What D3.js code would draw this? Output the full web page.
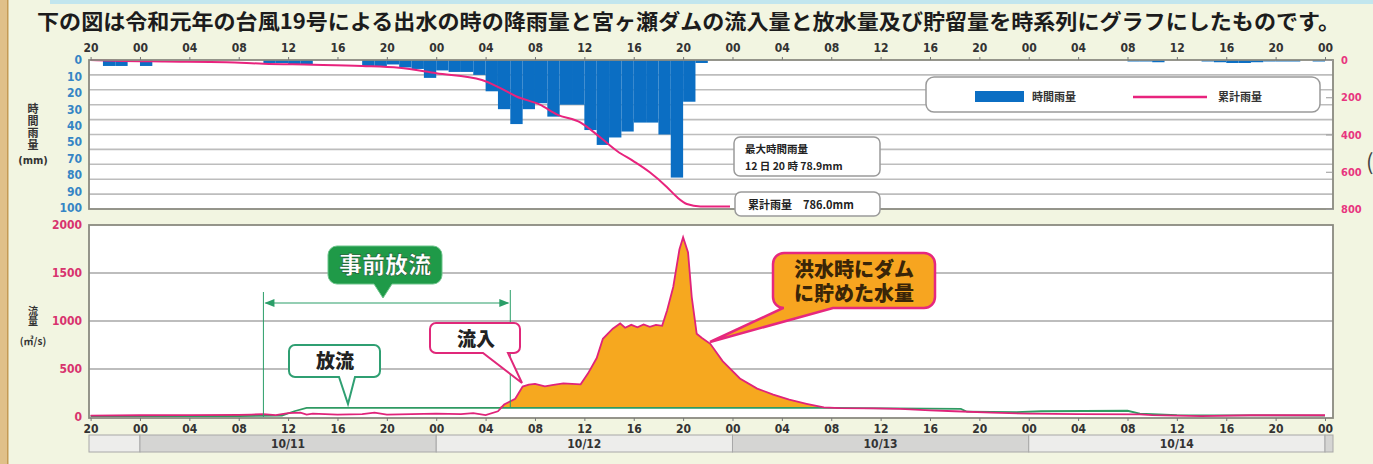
<!DOCTYPE html>
<html><head><meta charset="utf-8">
<script src="https://cdn.jsdelivr.net/npm/d3@7"></script>
<style>
body{margin:0;background:#f2f5e1;}
svg{display:block;}
text{font-family:"Noto Sans CJK JP","Noto Sans",sans-serif;}
.num{font-family:"DejaVu Sans Condensed","Liberation Sans Narrow","Roboto",sans-serif;font-weight:bold;}
.vt{writing-mode:vertical-rl;text-orientation:upright;}
.ob{font-family:"Noto Sans CJK JP",sans-serif;font-size:20px;font-weight:900;color:#3a2508;line-height:24px;text-align:center;margin:0;}
</style></head><body>
<svg id="c" width="1373" height="464"></svg>
<script>
// ---------------- DATA ----------------
const titleText = "下の図は令和元年の台風19号による出水の時の降雨量と宮ヶ瀬ダムの流入量と放水量及び貯留量を時系列にグラフにしたものです。";
const startTime = new Date(2019, 9, 10, 20);
const endTime = new Date(2019, 9, 15, 0);

// hourly rainfall (hour index = hours after 10/10 20:00 at the END of the hour), mm
const rainHour = [2,3,5,15,16,17,18,23,24,25,26,27,28,29,30,31,32,33,34,35,36,37,38,39,40,41,42,43,44,45,46,47,48,49,50,85,86,87,91,92,93,94,95,96,97,98,100];
const rainMm   = [4,4,4,2,2,3,3,4,4,3,5,6,12,7,8,8,10,21,33,43,33,29,38,30,30,47,57,52,48,42,42,50,78.9,28,2,1,1,1.5,1,1.5,2,2,1.5,1,1,1,1];

// cumulative rainfall (hours after start, mm)
const cumHour = [0,2,6,11,14,18,22,25,28,31.7,33.2,34.5,36.4,37.8,39.7,41.3,42.7,44,45.3,46.7,47.5,48.3,49.4,51.8];
const cumMm   = [0,4,8,12,20,25,32,42,71,107,151,196,240,293,336,416,491,544,603,683,736,773,786,786];

// inflow (m3/s)
const inHour = [0,4,8,12,13,14,15,16,17,17.5,18,20,22,23,24,26,28,30,31,32,33,33.5,34.4,35,35.5,36,36.8,37.5,38.3,39,39.7,40.3,41,41.5,42.3,42.9,43.3,43.8,44.3,44.8,45.3,45.8,46.3,46.7,47.2,47.7,48,48.4,48.7,49.1,49.5,50.2,51.2,52.6,54,55.3,56.6,58,59.4,60.7,63.4,65.6,68,70,73,76,80,85,86,90,94,100];
const inVal  = [15,18,20,22,25,30,20,40,45,25,35,25,30,45,25,30,35,30,40,20,60,130,190,317,338,345,320,335,350,345,340,455,614,815,920,975,930,960,935,965,940,960,950,1110,1354,1745,1873,1714,1249,868,825,762,582,402,296,233,180,138,100,92,90,85,70,60,45,35,30,28,20,10,18,18];

// outflow (m3/s)
const outHour = [0,12,15.5,16.5,17.5,20,28,40,50,60,65,70.5,71,75,77,84,85,88,100];
const outVal  = [10,10,14,60,95,95,95,95,95,95,90,85,55,50,60,65,35,20,15];

const rainTickLabels = ["0","10","20","30","40","50","70","80","90","100"];
const cumTicks = [0,200,400,600,800];
const flowTicks = [0,500,1000,1500,2000];
const dayLabels = ["10/11","10/12","10/13","10/14"];
const dayStarts = [new Date(2019,9,11), new Date(2019,9,12), new Date(2019,9,13), new Date(2019,9,14)];

// ---------------- SETUP ----------------
const H = 3600e3;
const atH = h => new Date(+startTime + h * H);
const svg = d3.select("#c");
const X0 = 89, X1 = 1333;
const x = d3.scaleTime().domain([startTime, endTime]).range([90.6, 1325]);
const yRain = d3.scaleLinear().domain([0, 100]).range([60, 209]);
const yCum = d3.scaleLinear().domain([0, 800]).range([60, 209]);
const yFlow = d3.scaleLinear().domain([0, 2000]).range([417, 225]);
const yRainLbl = d3.scalePoint().domain(rainTickLabels).range([60, 208]);

// background & decorations
svg.append("rect").attr("width", 1373).attr("height", 464).attr("fill", "#f2f5e1");
svg.append("rect").attr("x", 0).attr("y", 0).attr("width", 8).attr("height", 464).attr("fill", "#e0c089");
svg.append("rect").attr("x", 7).attr("y", 0).attr("width", 1.5).attr("height", 464).attr("fill", "#c49a55");
svg.append("rect").attr("x", 50).attr("y", 0).attr("width", 1323).attr("height", 4).attr("fill", "#c2e6ee");

// title
svg.append("text").attr("x", 37).attr("y", 28.5).attr("font-size", 21).attr("font-weight", "bold")
  .attr("fill", "#1c1c1c").attr("textLength", 1303).attr("lengthAdjust", "spacingAndGlyphs").text(titleText);

// ---------------- TOP PLOT ----------------
const topG = svg.append("g");
topG.append("rect").attr("x", X0).attr("y", 60).attr("width", X1 - X0).attr("height", 149).attr("fill", "#fff");
topG.selectAll("line.g").data(d3.range(10, 100, 10)).join("line")
  .attr("x1", X0).attr("x2", X1).attr("y1", d => yRain(d)).attr("y2", d => yRain(d))
  .attr("stroke", "#bdbdbd").attr("stroke-width", 1.6);
topG.selectAll("rect.bar").data(rainHour.map((h, i) => ({h, v: rainMm[i]}))).join("rect")
  .attr("x", d => x(atH(d.h - 1))).attr("width", d => x(atH(d.h)) - x(atH(d.h - 1)))
  .attr("y", yRain(0)).attr("height", d => yRain(d.v) - yRain(0)).attr("fill", "#0b6ec3");
const cumLine = d3.line().x(d => x(atH(d.h))).y(d => yCum(d.v)).curve(d3.curveMonotoneX);
topG.append("path").datum(cumHour.map((h, i) => ({h, v: cumMm[i]}))).attr("d", cumLine)
  .attr("fill", "none").attr("stroke", "#e8237d").attr("stroke-width", 2);
topG.append("rect").attr("x", X0).attr("y", 60).attr("width", X1 - X0).attr("height", 149)
  .attr("fill", "none").attr("stroke", "#8a8a80").attr("stroke-width", 1.8);

// top time axis
const axTop = topG.append("g").attr("transform", "translate(0,60)")
  .call(d3.axisTop(x).ticks(d3.timeHour.every(4)).tickFormat(d3.timeFormat("%H")).tickSize(3).tickPadding(5));
axTop.select(".domain").remove();
axTop.selectAll("line").attr("stroke", "#777");
axTop.selectAll("text").attr("class", "num").attr("font-size", 12).attr("fill", "#333");

// left labels (rain)
topG.selectAll("text.rl").data(rainTickLabels).join("text").attr("class", "num")
  .attr("x", 82).attr("y", d => yRainLbl(d)).attr("dy", "0.35em").attr("text-anchor", "end")
  .attr("font-size", 12).attr("fill", "#3585c5").text(d => d);

// right axis (cumulative)
const axR = topG.append("g").attr("transform", `translate(${X1},0)`)
  .call(d3.axisRight(yCum).tickValues(cumTicks).tickFormat(d3.format("d")).tickSizeInner(-7).tickSizeOuter(0).tickPadding(8));
axR.select(".domain").remove();
axR.selectAll("line").attr("stroke", "#999");
axR.selectAll("text").attr("class", "num").attr("font-size", 11).attr("fill", "#e8357f");

// rain axis title
topG.append("text").attr("class", "vt").attr("x", 33).attr("y", 103).attr("font-size", 11).attr("font-weight", "bold")
  .attr("letter-spacing", 1).attr("fill", "#333").text("時間雨量");
topG.append("text").attr("class", "num").attr("x", 33).attr("y", 160).attr("dy", "0.35em").attr("text-anchor", "middle")
  .attr("font-size", 11).attr("fill", "#333").text("(mm)");

// legend
topG.append("rect").attr("x", 926).attr("y", 77).attr("width", 394).attr("height", 35).attr("rx", 8)
  .attr("fill", "#fff").attr("stroke", "#9a9a9a").attr("stroke-width", 1.5);
topG.append("rect").attr("x", 975).attr("y", 91).attr("width", 49).attr("height", 11).attr("fill", "#0b6ec3");
topG.append("text").attr("x", 1032).attr("y", 97).attr("dy", "0.35em").attr("font-size", 11).attr("font-weight", "bold").attr("fill", "#333").text("時間雨量");
topG.append("line").attr("x1", 1133).attr("x2", 1207).attr("y1", 97).attr("y2", 97).attr("stroke", "#e8237d").attr("stroke-width", 2.5);
topG.append("text").attr("x", 1218).attr("y", 97).attr("dy", "0.35em").attr("font-size", 11).attr("font-weight", "bold").attr("fill", "#333").text("累計雨量");

// annotation boxes top
topG.append("rect").attr("x", 734).attr("y", 137).attr("width", 146).attr("height", 39).attr("rx", 6)
  .attr("fill", "#fff").attr("stroke", "#9a9a9a").attr("stroke-width", 1.5);
topG.append("text").attr("x", 745).attr("y", 149).attr("dy", "0.35em").attr("font-size", 10.5).attr("font-weight", "bold").attr("fill", "#222").text("最大時間雨量");
topG.append("text").attr("x", 745).attr("y", 166).attr("dy", "0.35em").attr("font-size", 10.5).attr("font-weight", "bold").attr("fill", "#222").text("12 日 20 時  78.9mm");
topG.append("rect").attr("x", 735).attr("y", 192).attr("width", 145).attr("height", 24).attr("rx", 6)
  .attr("fill", "#fff").attr("stroke", "#9a9a9a").attr("stroke-width", 1.5);
topG.append("text").attr("x", 748).attr("y", 205).attr("dy", "0.35em").attr("font-size", 11).attr("font-weight", "bold").attr("fill", "#222").text("累計雨量　786.0mm");

// ---------------- BOTTOM PLOT ----------------
const botG = svg.append("g");
botG.append("rect").attr("x", X0).attr("y", 225).attr("width", X1 - X0).attr("height", 193).attr("fill", "#fff");
botG.selectAll("line.g").data([500, 1000, 1500]).join("line")
  .attr("x1", X0).attr("x2", X1).attr("y1", d => yFlow(d)).attr("y2", d => yFlow(d))
  .attr("stroke", "#bdbdbd").attr("stroke-width", 2);

const outAt = d3.scaleLinear().domain(outHour).range(outVal);
const inData = inHour.map((h, i) => ({h, v: inVal[i], o: outAt(h)}));
const area = d3.area().x(d => x(atH(d.h))).y0(d => yFlow(d.o)).y1(d => yFlow(Math.max(d.v, d.o)));
botG.append("path").datum(inData).attr("d", area).attr("fill", "#f6a81f");
const outLine = d3.line().x(d => x(atH(d.h))).y(d => yFlow(d.v));
botG.append("path").datum(outHour.map((h, i) => ({h, v: outVal[i]}))).attr("d", outLine)
  .attr("fill", "none").attr("stroke", "#2f9a62").attr("stroke-width", 1.8);
const inLine = d3.line().x(d => x(atH(d.h))).y(d => yFlow(d.v));
botG.append("path").datum(inData).attr("d", inLine)
  .attr("fill", "none").attr("stroke", "#e0237a").attr("stroke-width", 1.8);

botG.append("rect").attr("x", X0).attr("y", 225).attr("width", X1 - X0).attr("height", 193)
  .attr("fill", "none").attr("stroke", "#8a8a80").attr("stroke-width", 1.8);

// left flow axis
const axL = botG.append("g").attr("transform", `translate(${X0},0)`)
  .call(d3.axisLeft(yFlow).tickValues(flowTicks).tickFormat(d3.format("d")).tickSize(0).tickPadding(7));
axL.select(".domain").remove();
axL.selectAll("text").attr("class", "num").attr("font-size", 12).attr("fill", "#d8336e");
botG.append("text").attr("class", "vt").attr("x", 33).attr("y", 306).attr("font-size", 10).attr("font-weight", "bold")
  .attr("fill", "#333").text("流量");
botG.append("text").attr("x", 33).attr("y", 341).attr("dy", "0.35em").attr("text-anchor", "middle")
  .attr("font-size", 10).attr("font-weight", "bold").attr("fill", "#333").text("(㎥/s)");

// bottom time axis
const axB = botG.append("g").attr("transform", "translate(0,418)")
  .call(d3.axisBottom(x).ticks(d3.timeHour.every(4)).tickFormat(d3.timeFormat("%H")).tickSize(3).tickPadding(3));
axB.select(".domain").remove();
axB.selectAll("line").attr("stroke", "#777");
axB.selectAll("text").attr("class", "num").attr("font-size", 12).attr("fill", "#333");

// day band
const bandBounds = [startTime, ...dayStarts, endTime];
const bandG = botG.append("g");
for (let i = 0; i < bandBounds.length - 1; i++) {
  const xa = i === 0 ? X0 : x(bandBounds[i]);
  const xb = x(bandBounds[i + 1]);
  bandG.append("rect").attr("x", xa).attr("y", 435).attr("width", xb - xa).attr("height", 17)
    .attr("fill", i % 2 === 1 ? "#d5d5d3" : "#ededeb").attr("stroke", "#a8a8a8").attr("stroke-width", 1);
}
bandG.append("rect").attr("x", x(endTime)).attr("y", 435).attr("width", X1 - x(endTime)).attr("height", 17)
  .attr("fill", "#d5d5d3").attr("stroke", "#a8a8a8").attr("stroke-width", 1);
bandG.selectAll("text").data(dayLabels).join("text").attr("class", "num")
  .attr("x", (d, i) => (x(dayStarts[i]) + x(new Date(+dayStarts[i] + 24 * H))) / 2).attr("y", 444).attr("dy", "0.35em")
  .attr("text-anchor", "middle").attr("font-size", 12).attr("fill", "#333").text(d => d);

// ---------------- ANNOTATIONS (bottom) ----------------
function callout(xx, yy, w, h, r, bx1, bx2, tx, ty) {
  return `M${xx + r},${yy}H${xx + w - r}A${r},${r} 0 0 1 ${xx + w},${yy + r}V${yy + h - r}A${r},${r} 0 0 1 ${xx + w - r},${yy + h}` +
    `H${bx2}L${tx},${ty}L${bx1},${yy + h}H${xx + r}A${r},${r} 0 0 1 ${xx},${yy + h - r}V${yy + r}A${r},${r} 0 0 1 ${xx + r},${yy}Z`;
}
const green = "#2a9e68";
const xs = x(atH(14)), xe = x(atH(34));
botG.append("line").attr("x1", xs).attr("x2", xs).attr("y1", 292).attr("y2", 417).attr("stroke", green).attr("stroke-width", 1);
botG.append("line").attr("x1", xe).attr("x2", xe).attr("y1", 290).attr("y2", 408).attr("stroke", green).attr("stroke-width", 1);
botG.append("line").attr("x1", xs + 2).attr("x2", xe - 2).attr("y1", 303).attr("y2", 303).attr("stroke", green).attr("stroke-width", 1.2);
botG.append("path").attr("d", `M${xs + 1},303L${xs + 11},299L${xs + 11},307Z`).attr("fill", green);
botG.append("path").attr("d", `M${xe - 1},303L${xe - 11},299L${xe - 11},307Z`).attr("fill", green);

botG.append("path").attr("d", callout(328, 246, 114, 38, 9, 374, 392, 383, 298)).attr("fill", "#1f9a48").attr("stroke", "#6cc48a").attr("stroke-width", 1);
botG.append("text").attr("x", 385).attr("y", 265).attr("dy", "0.36em").attr("text-anchor", "middle").attr("font-size", 23)
  .attr("font-weight", "900").attr("fill", "#fff").attr("stroke", "#0f5a2a").attr("stroke-width", 0.6).text("事前放流");

botG.append("path").attr("d", callout(289, 345, 91, 32, 6, 339, 355, 348, 404)).attr("fill", "#fff").attr("stroke", "#2f9f72").attr("stroke-width", 2);
botG.append("text").attr("x", 335).attr("y", 361).attr("dy", "0.36em").attr("text-anchor", "middle").attr("font-size", 19)
  .attr("font-weight", "900").attr("fill", "#222").text("放流");

botG.append("path").attr("d", callout(430, 323, 90, 30, 6, 483, 508, 522, 383)).attr("fill", "#fff").attr("stroke", "#e0287a").attr("stroke-width", 2);
botG.append("text").attr("x", 476).attr("y", 339).attr("dy", "0.36em").attr("text-anchor", "middle").attr("font-size", 19)
  .attr("font-weight", "900").attr("fill", "#222").text("流入");

botG.append("path").attr("d", callout(773, 253, 162, 55, 11, 783, 833, 710, 342)).attr("fill", "#f7a520").attr("stroke", "#e6287e").attr("stroke-width", 2.5);
const fo = botG.append("foreignObject").attr("x", 773).attr("y", 257).attr("width", 162).attr("height", 50);
fo.append("xhtml:div").attr("class", "ob").html("洪水時にダム<br>に貯めた水量");

svg.append("text").attr("x", 1366).attr("y", 170).attr("font-size", 22).attr("fill", "#444").text("(");
</script>
</body></html>
